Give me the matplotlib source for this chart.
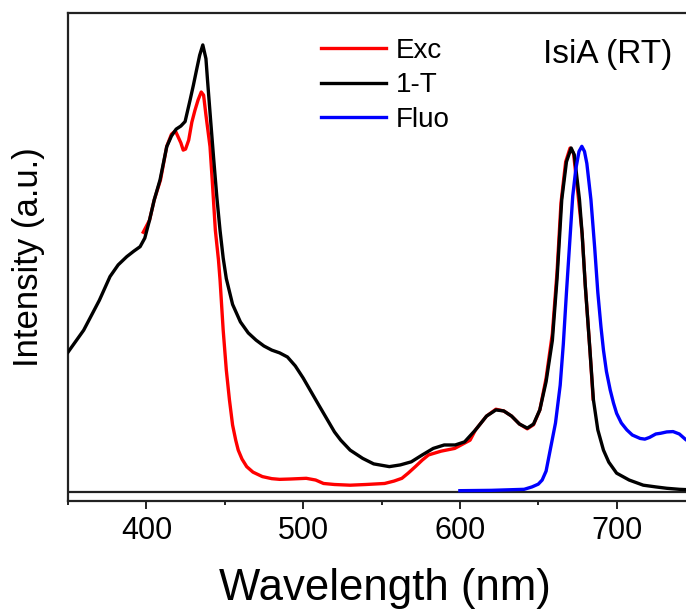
import matplotlib
matplotlib.use("Agg")
import matplotlib.pyplot as plt
import numpy as np

plt.rcParams['font.family'] = ['Liberation Sans', 'DejaVu Sans']

# 1-T (absorptance) spectrum
t_nm = [350, 360, 370, 376.8, 382, 387.5, 392, 396, 399, 402, 405, 408.7, 413, 416, 419, 422,
        424.7, 427.9, 430, 432, 434, 436, 438, 439, 441, 443, 445, 447, 449, 451, 455, 460,
        465, 470, 475, 480, 485, 490, 495, 500, 510, 520, 524, 530, 538, 545, 555, 562, 569,
        576, 583, 590, 597, 603, 610, 617, 623, 628, 633, 638, 643, 647, 651, 655, 659, 662,
        665, 668, 671, 673, 676.3, 678, 680, 683, 685.2, 688, 691.6, 695, 700, 708, 717, 725,
        732, 740, 750]
t_val = [0.406, 0.47, 0.557, 0.626, 0.66, 0.684, 0.70, 0.713, 0.738, 0.79, 0.849, 0.907, 1.004,
         1.035, 1.055, 1.064, 1.077, 1.14, 1.183, 1.227, 1.27, 1.30, 1.26, 1.198, 1.08, 0.965,
         0.855, 0.76, 0.68, 0.62, 0.545, 0.494, 0.462, 0.441, 0.424, 0.412, 0.404, 0.392,
         0.366, 0.331, 0.252, 0.174, 0.15, 0.121, 0.097, 0.081, 0.073, 0.078, 0.087, 0.107,
         0.126, 0.136, 0.136, 0.145, 0.18, 0.22, 0.238, 0.235, 0.22, 0.197, 0.185, 0.197, 0.238,
         0.32, 0.44, 0.62, 0.85, 0.96, 1.0, 0.98, 0.85, 0.75, 0.60, 0.41, 0.267, 0.18, 0.121,
         0.086, 0.054, 0.034, 0.019, 0.014, 0.01, 0.007, 0.005]

# Excitation spectrum
e_nm = [398, 402, 405, 409, 413, 416, 418.5, 420, 422, 423.5, 425, 427, 429, 431, 433, 435,
        436.5, 438, 440.6, 442, 444, 446, 447, 449, 451, 453, 455, 457, 458.6, 461, 464, 468,
        474, 480, 485, 492, 502, 508, 513, 520, 530, 540, 552, 558, 563, 567, 571.6, 576, 580,
        588, 596.7, 602, 606.5, 610, 617, 623, 628, 633, 638, 643, 647, 651, 655, 659, 662,
        664.5, 667.5, 670.3, 672.5, 675.5, 678, 680, 683, 685]
e_val = [0.755, 0.79, 0.849, 0.907, 1.005, 1.04, 1.05, 1.035, 1.015, 0.994, 0.997, 1.023, 1.075,
         1.11, 1.14, 1.163, 1.154, 1.096, 1.004, 0.907, 0.761, 0.674, 0.616, 0.47, 0.354, 0.267,
         0.194, 0.15, 0.121, 0.095, 0.073, 0.057, 0.044, 0.038, 0.036, 0.037, 0.039, 0.034,
         0.024, 0.021, 0.019, 0.021, 0.024, 0.031, 0.039, 0.054, 0.073, 0.092, 0.107, 0.118,
         0.126, 0.139, 0.15, 0.18, 0.22, 0.24, 0.235, 0.22, 0.197, 0.183, 0.195, 0.238, 0.33,
         0.46, 0.64, 0.84, 0.96, 1.0, 0.985, 0.86, 0.75, 0.60, 0.41, 0.27]

# Fluorescence spectrum
f_nm = [600, 620, 641, 646, 650, 652.5, 655, 658, 661, 664, 666, 668, 670, 672, 674, 676, 677.8,
        679.5, 681, 683.6, 686, 688, 690, 691.6, 693.5, 695.9, 698, 700, 703, 706.5, 710, 715,
        718, 721, 725, 728, 732, 736, 740, 744, 748]
f_val = [0.003, 0.004, 0.007, 0.014, 0.022, 0.034, 0.06, 0.13, 0.20, 0.31, 0.43, 0.58, 0.72,
         0.86, 0.94, 0.99, 1.005, 0.99, 0.955, 0.85, 0.71, 0.58, 0.48, 0.412, 0.35, 0.296,
         0.258, 0.228, 0.2, 0.18, 0.165, 0.155, 0.153, 0.158, 0.168, 0.17, 0.174, 0.175, 0.168,
         0.152, 0.139]

xticks = [400, 500, 600, 700]
xminor = [350, 450, 550, 650, 750]
labels = ['Exc', '1-T', 'Fluo']

W, H = 686, 611
fig = plt.figure(figsize=(W / 100, H / 100), dpi=100)
ax = fig.add_axes([68 / W, (H - 501) / H, (695 - 68) / W, (501 - 13.3) / H])

lw = 2.4
ax.plot(e_nm, e_val, color='#ff0000', lw=lw, label=labels[0], zorder=3)
ax.plot(t_nm, t_val, color='black', lw=lw, label=labels[1], zorder=4)
ax.plot(f_nm, f_val, color='#0000ff', lw=lw, label=labels[2], zorder=5)
ax.axhline(0, color='#222222', lw=1.6, zorder=2)

ax.set_xlim(350, 750)
ax.set_ylim(-0.027, 1.392)
ax.set_xticks(xticks)
ax.set_xticks(xminor, minor=True)
ax.set_yticks([])
for s in ['left', 'top', 'bottom']:
    ax.spines[s].set_linewidth(1.6)
    ax.spines[s].set_color('#222222')
ax.spines['right'].set_visible(False)
ax.tick_params(axis='x', which='major', direction='out', length=6, width=1.4,
               labelsize=22, pad=5, colors='#222222', labelcolor='black')
ax.tick_params(axis='x', which='minor', direction='out', length=3, width=1.4, colors='#222222')

ax.set_xlabel('Wavelength (nm)', fontsize=31.5)
ax.xaxis.set_label_coords((385 - 68) / (695 - 68), -0.138)
ax.set_ylabel('Intensity (a.u.)', fontsize=25)
ax.yaxis.set_label_coords(-0.036, 0.5)

leg = ax.legend(loc='upper left', bbox_to_anchor=(321 / W, (H - 38) / H),
                bbox_transform=fig.transFigure, frameon=False, fontsize=20,
                handlelength=2.35, handletextpad=0.35, labelspacing=0.3,
                borderpad=0, borderaxespad=0)

fig.text(542.7 / W, 1 - 62.7 / H, 'IsiA (RT)', fontsize=24, ha='left', va='baseline')

fig.savefig('out.png', dpi=100)
